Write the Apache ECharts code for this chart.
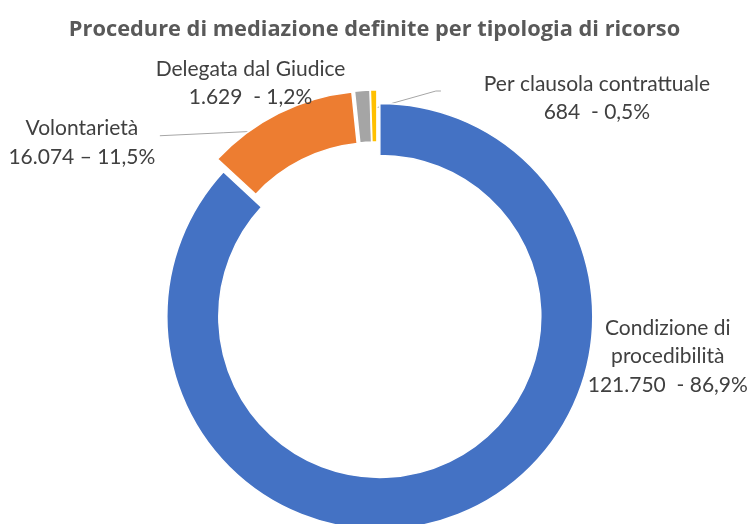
<!DOCTYPE html>
<html>
<head>
<meta charset="utf-8">
<title>Procedure di mediazione</title>
<script src="https://cdn.jsdelivr.net/npm/echarts@6/dist/echarts.min.js"></script>
<style>
  html, body { margin: 0; padding: 0; background: #fff; }
  #main { width: 749px; height: 524px; }
</style>
</head>
<body>
<div id="main"></div>
<script>
// dati del grafico
const categories = ['Condizione di procedibilità', 'Volontarietà', 'Delegata dal Giudice', 'Per clausola contrattuale']
const labelNames = ['Condizione di\nprocedibilità', 'Volontarietà', 'Delegata dal Giudice', 'Per clausola contrattuale']
const values = [121750, 16074, 1629, 684]
const separators = ['  - ', ' – ', '  - ', '  - ']
const colors = ['#4472C4', '#ED7D31', '#A5A5A5', '#FFC000']

const total = values.reduce((a, b) => a + b, 0)

function fmtNum (n) {
  return String(n).replace(/\B(?=(\d{3})+(?!\d))/g, '.')
}

// centro delle etichette (come in Excel)
const labelPos = [
  { x: 665, y: 350 },
  { x: 85, y: 149 },
  { x: 251, y: 90 },
  { x: 597, y: 105 }
]

const chart = echarts.init(document.getElementById('main'))

const option = {
  animation: false,
  title: {
    text: 'Procedure di mediazione definite per tipologia di ricorso',
    left: 'center',
    top: 14,
    textStyle: {
      fontFamily: 'Open Sans',
      fontSize: 21.8,
      fontWeight: 'bold',
      color: '#595959'
    }
  },
  series: [
    {
      type: 'pie',
      center: [377, 310],
      radius: [161, 213],
      startAngle: 90,
      clockwise: true,
      avoidLabelOverlap: false,
      selectedMode: 'multiple',
      selectedOffset: 7,
      itemStyle: {
        borderColor: '#fff',
        borderWidth: 1.5
      },
      label: {
        show: true,
        position: 'outside',
        alignTo: 'none',
        fontFamily: 'Lato',
        fontSize: 21,
        color: '#404040',
        formatter: function (p) {
          const i = p.dataIndex
          const pct = (values[i] / total * 100).toFixed(1).replace('.', ',')
          const lines = labelNames[i].split('\n')
          lines.push(fmtNum(values[i]) + separators[i] + pct + '%')
          return lines.map(s => '{c|' + s + '}').join('\n')
        },
        rich: {
          c: {
            fontFamily: 'Lato',
            fontSize: 21,
            lineHeight: 28.5,
            color: '#404040',
            width: 250,
            align: 'center'
          }
        }
      },
      labelLine: {
        show: true,
        lineStyle: { color: '#A6A6A6', width: 1 }
      },
      labelLayout: function (params) {
        const i = params.dataIndex
        const r = params.labelRect
        const res = {
          dx: labelPos[i].x - (r.x + r.width / 2),
          dy: labelPos[i].y - (r.y + r.height / 2)
        }
        if (i === 1) {
          res.labelLinePoints = [[290, 136], [227, 139], [163, 142]]
        } else if (i === 3) {
          res.labelLinePoints = [[372, 116], [436, 98], [441, 98]]
        }
        return res
      },
      data: categories.map((name, i) => ({
        name: name,
        value: values[i],
        selected: true,
        itemStyle: { color: colors[i] },
        labelLine: { show: i === 1 || i === 3 }
      }))
    }
  ]
}

chart.setOption(option)
</script>
</body>
</html>
